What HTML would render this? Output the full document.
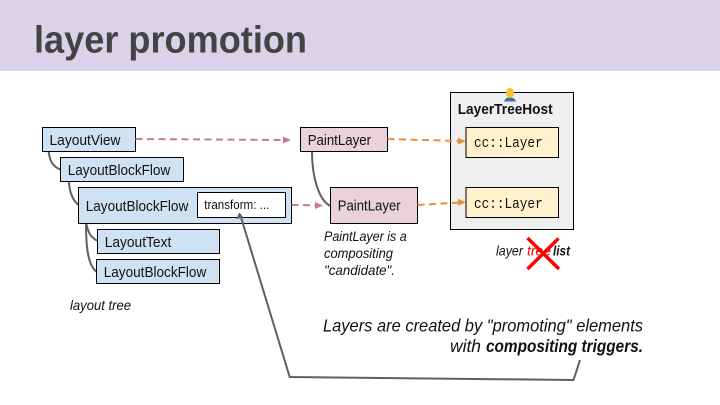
<!DOCTYPE html>
<html lang="en">
<head>
<meta charset="utf-8">
<title>layer promotion</title>
<style>
html,body{margin:0;padding:0;background:#fff;width:720px;height:405px;overflow:hidden}
svg{display:block}
text{font-family:"Liberation Sans",sans-serif;fill:#111;font-size:15px}
.i{font-style:italic;font-size:14px}
.b{font-weight:bold}
.m{font-family:"Liberation Mono",monospace;font-size:15px}
.c{fill:none;stroke:#5f5f5f;stroke-width:2}
.pink{fill:none;stroke:#c27ba0;stroke-width:2;stroke-dasharray:7 4.5}
.orange{fill:none;stroke:#e69138;stroke-width:2;stroke-dasharray:7 4.5}
.box{stroke:#000;stroke-width:1}
.blue{fill:#cfe2f3}
.rose{fill:#ead1dc}
.yel{fill:#fff2cc}
</style>
</head>
<body>
<svg width="720" height="405" viewBox="0 0 720 405" xmlns="http://www.w3.org/2000/svg">
  <rect x="0" y="0" width="720" height="71" fill="#d9d2e9"/>
  <text x="34" y="52.5" class="b" style="font-size:38px;fill:#434343" textLength="273" lengthAdjust="spacingAndGlyphs">layer promotion</text>

  <!-- tree connectors -->
  <path class="c" d="M48.7 151.7C49.5 160 53 167 60.5 169.5"/>
  <path class="c" d="M69 181.7C69.5 192 72.5 200 78.5 205"/>
  <path class="c" d="M86.3 223C87.5 231 91 238 97.5 240.7"/>
  <path class="c" d="M86 223C86 245 87.5 265 96.5 271.7"/>
  <path class="c" d="M312 151.7C312 175 318 200 330.5 206"/>

  <!-- layout tree -->
  <rect class="box blue" x="42.5" y="127.5" width="93" height="24"/>
  <text x="49.5" y="145" textLength="71" lengthAdjust="spacingAndGlyphs">LayoutView</text>
  <rect class="box blue" x="60.5" y="157.5" width="123" height="24"/>
  <text x="67.7" y="175" textLength="102.6" lengthAdjust="spacingAndGlyphs">LayoutBlockFlow</text>
  <rect class="box blue" x="78.5" y="187.5" width="213" height="36"/>
  <text x="85.7" y="211" textLength="102.6" lengthAdjust="spacingAndGlyphs">LayoutBlockFlow</text>
  <rect class="box" fill="#fff" x="197.5" y="192.5" width="88" height="25"/>
  <text x="204.3" y="209" style="font-size:12.5px" textLength="65" lengthAdjust="spacingAndGlyphs">transform: ...</text>
  <rect class="box blue" x="97.5" y="229.5" width="122" height="24"/>
  <text x="104.7" y="247" textLength="66.6" lengthAdjust="spacingAndGlyphs">LayoutText</text>
  <rect class="box blue" x="96.5" y="259.5" width="123" height="24"/>
  <text x="103.7" y="277" textLength="102.6" lengthAdjust="spacingAndGlyphs">LayoutBlockFlow</text>
  <text class="i" x="70" y="310" textLength="61" lengthAdjust="spacingAndGlyphs">layout tree</text>

  <!-- paint layers -->
  <rect class="box rose" x="300.5" y="127.5" width="87" height="24"/>
  <text x="307.7" y="145" textLength="63.3" lengthAdjust="spacingAndGlyphs">PaintLayer</text>
  <rect class="box rose" x="330.5" y="187.5" width="87" height="36"/>
  <text x="337.7" y="210.7" textLength="63" lengthAdjust="spacingAndGlyphs">PaintLayer</text>
  <text class="i" x="324" y="241" textLength="82.7" lengthAdjust="spacingAndGlyphs">PaintLayer is a</text>
  <text class="i" x="324" y="258" textLength="69" lengthAdjust="spacingAndGlyphs">compositing</text>
  <text class="i" x="324" y="275" textLength="71" lengthAdjust="spacingAndGlyphs">"candidate".</text>

  <!-- LayerTreeHost -->
  <rect class="box" fill="#efefef" x="450.5" y="92.5" width="123" height="137"/>
  <path d="M504 101.5C505 98 508 97.5 510 97.5C512 97.5 515 98 516 101.5Z" fill="#3d6fa8"/>
  <ellipse cx="510" cy="93" rx="4" ry="5" fill="#f1c232"/>
  <text class="b" x="457.7" y="114" textLength="95" lengthAdjust="spacingAndGlyphs">LayerTreeHost</text>
  <rect class="box yel" x="466" y="127.5" width="92.5" height="30"/>
  <text class="m" x="474" y="147" textLength="68.7" lengthAdjust="spacingAndGlyphs">cc::Layer</text>
  <rect class="box yel" x="466" y="187.5" width="92.5" height="30"/>
  <text class="m" x="474" y="208" textLength="68.7" lengthAdjust="spacingAndGlyphs">cc::Layer</text>

  <!-- dashed arrows -->
  <path class="pink" d="M135.5 139L284 140"/>
  <path d="M291 140L283 136.5V143.5Z" fill="#c27ba0"/>
  <path class="pink" d="M291.5 205L316 205.3"/>
  <path d="M323 205.5L315 202V209Z" fill="#c27ba0"/>
  <path class="orange" d="M387.5 139L460 141"/>
  <path d="M466 141.3L458 137.5V144.5Z" fill="#e69138"/>
  <path class="orange" d="M417.5 205L460 202.5"/>
  <path d="M466 202.2L458 198.7V205.7Z" fill="#e69138"/>

  <!-- layer tree list -->
  <text class="i" x="496" y="255.7" textLength="27" lengthAdjust="spacingAndGlyphs">layer</text>
  <text class="i" x="527" y="255.7" style="fill:#f00" textLength="24" lengthAdjust="spacingAndGlyphs">tree</text>
  <text class="i b" x="553" y="255.7" textLength="17" lengthAdjust="spacingAndGlyphs">list</text>
  <path d="M527.5 238L559 269M558.5 238.5L527.5 269" fill="none" stroke="#f00" stroke-width="3.5"/>

  <!-- trigger callout -->
  <path d="M240 214L289.7 377L573.5 380L580 360" fill="none" stroke="#5f5f5f" stroke-width="2"/>
  <path d="M239 212.5L236.5 219L243.5 217.5Z" fill="#5f5f5f"/>
  <text class="i" x="323" y="331.7" style="font-size:17.5px" textLength="320" lengthAdjust="spacingAndGlyphs">Layers are created by "promoting" elements</text>
  <text class="i" x="450" y="352" style="font-size:17.5px" textLength="31" lengthAdjust="spacingAndGlyphs">with</text>
  <text class="i b" x="486" y="352" style="font-size:17.5px" textLength="157" lengthAdjust="spacingAndGlyphs">compositing triggers.</text>
</svg>
</body>
</html>
